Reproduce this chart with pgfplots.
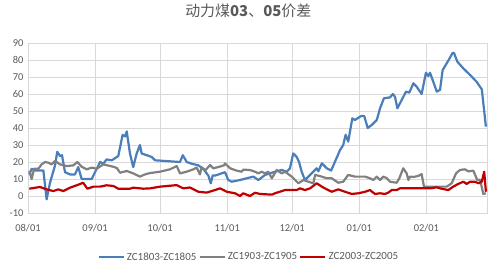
\documentclass[border=0pt]{standalone}
\usepackage{fontspec}
\setmainfont{Carlito}
\newfontfamily\cjk{Noto Sans CJK SC}
\usepackage{pgfplots}
\pgfplotsset{compat=1.18}
\definecolor{cblue}{HTML}{4A7EBB}
\definecolor{cgray}{HTML}{808080}
\definecolor{cred}{HTML}{C00000}
\definecolor{gridc}{HTML}{D9D9D9}
\definecolor{labc}{HTML}{595959}
\begin{document}
\begin{tikzpicture}
\begin{axis}[name=ax, scale only axis, width=459bp, height=170bp,
  xmin=0, xmax=212, ymin=-10, ymax=90,
  ytick={-10,0,10,20,30,40,50,60,70,80,90},
  xtick={0,31,61,92,122,153,184},
  xticklabels={08/01,09/01,10/01,11/01,12/01,01/01,02/01},
  grid=major, grid style={draw=gridc, line width=0.7bp},
  axis line style={draw=gridc, line width=0.7bp},
  tick style={draw=none},
  /pgf/number format/assume math mode=true,
  ticklabel style={font=\fontsize{10.5}{11}\selectfont, text=labc},
  xticklabel style={yshift=-8bp},
  yticklabel style={xshift=-1bp},
  title={\color{labc}\fontsize{15}{16}\selectfont\cjk 动力煤\textbf{03}、\textbf{05}价差},
  title style={at={(0.48,1)}, anchor=center, yshift=26bp},
  legend style={at={(0.48,-0.259)}, anchor=center, draw=none, fill=none,
    legend columns=3, font=\fontsize{11}{12}\selectfont\color{labc},
    nodes={inner sep=1bp},
    /tikz/every even column/.append style={column sep=1bp},
    /tikz/every odd column/.append style={column sep=1bp}},
  legend image code/.code={\draw[#1, line width=2.4bp] (0,0) -- (25bp,0);},
  every axis plot/.append style={line width=2.2bp, line join=round},
]
\addplot[cblue] coordinates {
(0.6,12.7)(1.7,16)(3.2,15)(7.1,15)(8.6,-2)(10.2,8)(12.5,18)(13.5,26)(14.8,23.5)(15.7,24)
(17.1,14)(19.4,12.7)(21.7,12.7)(23.2,17)(24.8,10)(29.4,10)(33.3,20)(34.8,19)(36.3,21.5)(38.7,21)
(41.7,23.5)(43.7,36)(44.8,35)(45.6,38)(47.1,25)(48.6,17)(50.2,25)(51.7,30)(52.5,25)(54.8,24)
(57.1,23)(58.7,21)(61,20.8)(70.2,20)(71.5,24)(73.3,20)(75.6,19)(78.7,18)(81,16)(83.3,12)
(84.4,7.5)(85.3,12)(86.4,12)(88.7,13)(91,14)(92.5,9.4)(94.1,8.4)(97.9,9.4)(101,10.4)(104.1,11.4)
(106.4,9.4)(109.5,12.4)(114.1,14.3)(117.2,15.3)(119.5,14.3)(121,16.3)(122.5,25)(124.1,23)(125.2,20)(126.4,14.3)
(127.9,9.4)(129.5,11.4)(131.8,14.3)(133.3,16.3)(134.1,14.5)(135.7,19.2)(138,16.3)(140,15)(141.8,20.2)(144.1,27)
(145.6,30)(146.7,36)(147.9,32)(149.8,45.7)(151,44.7)(153.8,47)(155.3,47)(156.9,40)(158.8,41.8)(160.3,43.7)
(161.1,44.7)(162.6,51.6)(164.4,57.5)(167.2,58)(168.5,60)(169.5,58.4)(170.6,51.6)(172.6,56.5)(174.6,61.4)(176.1,60.8)
(178,66.3)(179.5,64.3)(181.8,60)(183.8,72.5)(184.9,70.6)(185.7,72.5)(188.8,61.4)(190.3,62.4)(191.5,74)(194.1,79.6)
(196.2,84.3)(196.8,84)(198.3,79)(201.1,75)(204.2,71.2)(207.2,67.2)(209.6,62.7)(211.5,40.8)
};
\addlegendentry{ZC1803-ZC1805}
\addplot[cgray] coordinates {
(0.6,14.7)(1.7,10)(2.8,16)(4.8,16)(6.3,18.6)(7.9,20)(9.4,19.6)(10.9,18.6)(12.5,20.6)(14.8,18.6)
(17.9,17.6)(20.9,18)(22.8,20)(24.8,17.2)(27.1,15.7)(29.4,16.7)(31.7,16)(34.8,18.6)(39.4,17.2)(41,16.5)
(42.5,13.7)(45.6,14.7)(48.6,13.3)(51.7,11.4)(54,12.7)(56.4,13.5)(61,14.3)(65.6,15.7)(68.7,17.6)(70.2,13.3)
(73.3,14.3)(76.4,15.7)(77.9,16.7)(79.4,12.7)(80.2,16.9)(81.8,15)(84.1,18.2)(85.6,16.3)(87.8,17)(90.5,18)
(91,19.2)(93.3,16.3)(96.4,14.9)(98.7,14.3)(99.4,15.5)(102.5,15.3)(104.8,14.3)(106.4,13.3)(107.9,14.3)(109.5,13.3)
(111,14.3)(112.6,10.4)(114.9,15.3)(117.2,13.3)(118.7,14.3)(121.8,11.4)(124.9,7.5)(127.2,9.4)(129.5,8.4)(131.8,7.5)
(132.6,12.4)(135.7,11.4)(138,10.4)(140.3,10.4)(143.3,7.8)(145.6,8.4)(147.9,12.4)(151,11.4)(155.7,11.4)(158,10.4)
(159.5,9.4)(161.1,11.4)(162.6,9.4)(164.1,11.4)(165.7,10.5)(167.2,8.4)(170.3,7.8)(171.5,10.4)(173.3,16.3)(174.9,13.3)
(175.7,9.4)(176.4,11.4)(178,11.2)(180.3,11.8)(181.8,12.9)(182.9,5.5)(193.4,5.5)(195.7,7.5)(197.7,13.3)(199.5,15.3)
(201.8,15.7)(203.4,14.5)(205.7,14.9)(207.5,9.4)(208.8,9.6)(210.3,1.2)(211.5,1.6)
};
\addlegendentry{ZC1903-ZC1905}
\addplot[cred] coordinates {
(0.6,4.3)(5.5,5.3)(8.6,3.9)(11.7,2.9)(14,3.9)(16.3,2.9)(19.4,4.9)(22.5,6.3)(25.5,7.8)(27.4,4.3)
(30.2,5.5)(33.3,5.5)(36.3,6.3)(39.4,5.9)(41.7,4.3)(47.1,4.3)(48.6,4.9)(53.3,4.3)(56.4,4.5)(61,5.5)
(68.7,6.4)(71.7,4.5)(74.8,5)(78.7,2.5)(82.5,2)(86.4,3.5)(88.7,4.5)(91.8,2.5)(95.6,1.6)(97.9,0)
(99.4,1.6)(102.5,0)(104.8,1.9)(107.2,1.2)(112.6,0.8)(114.1,1.6)(118.7,3.5)(124.1,3.5)(125.6,4.5)(127.9,3.5)
(130.3,4.5)(133.3,7.5)(135.7,5.5)(138,3.9)(140.3,2.5)(143.3,3.9)(146.4,2.5)(149.5,1.2)(152.6,1.6)(155.7,2.5)
(158,3.5)(158.9,2.5)(160.3,1.2)(162.6,1.6)(164.9,1.2)(166.4,2)(168,3.5)(170.3,3.5)(171.8,4.5)(185.7,4.5)
(188.8,5.1)(190.3,4.5)(194.1,3.5)(196.4,5.5)(198.7,7.1)(201.1,8.4)(202.6,7.1)(204.2,8.4)(206.5,8.4)(208,7.5)
(209.6,8.4)(210.7,14.3)(211.5,2.5)
};
\addlegendentry{ZC2003-ZC2005}
\end{axis}
\path[use as bounding box] ([shift={(-28bp,-59bp)}]ax.south west) rectangle ([shift={(13bp,43bp)}]ax.north east);
\end{tikzpicture}
\end{document}
